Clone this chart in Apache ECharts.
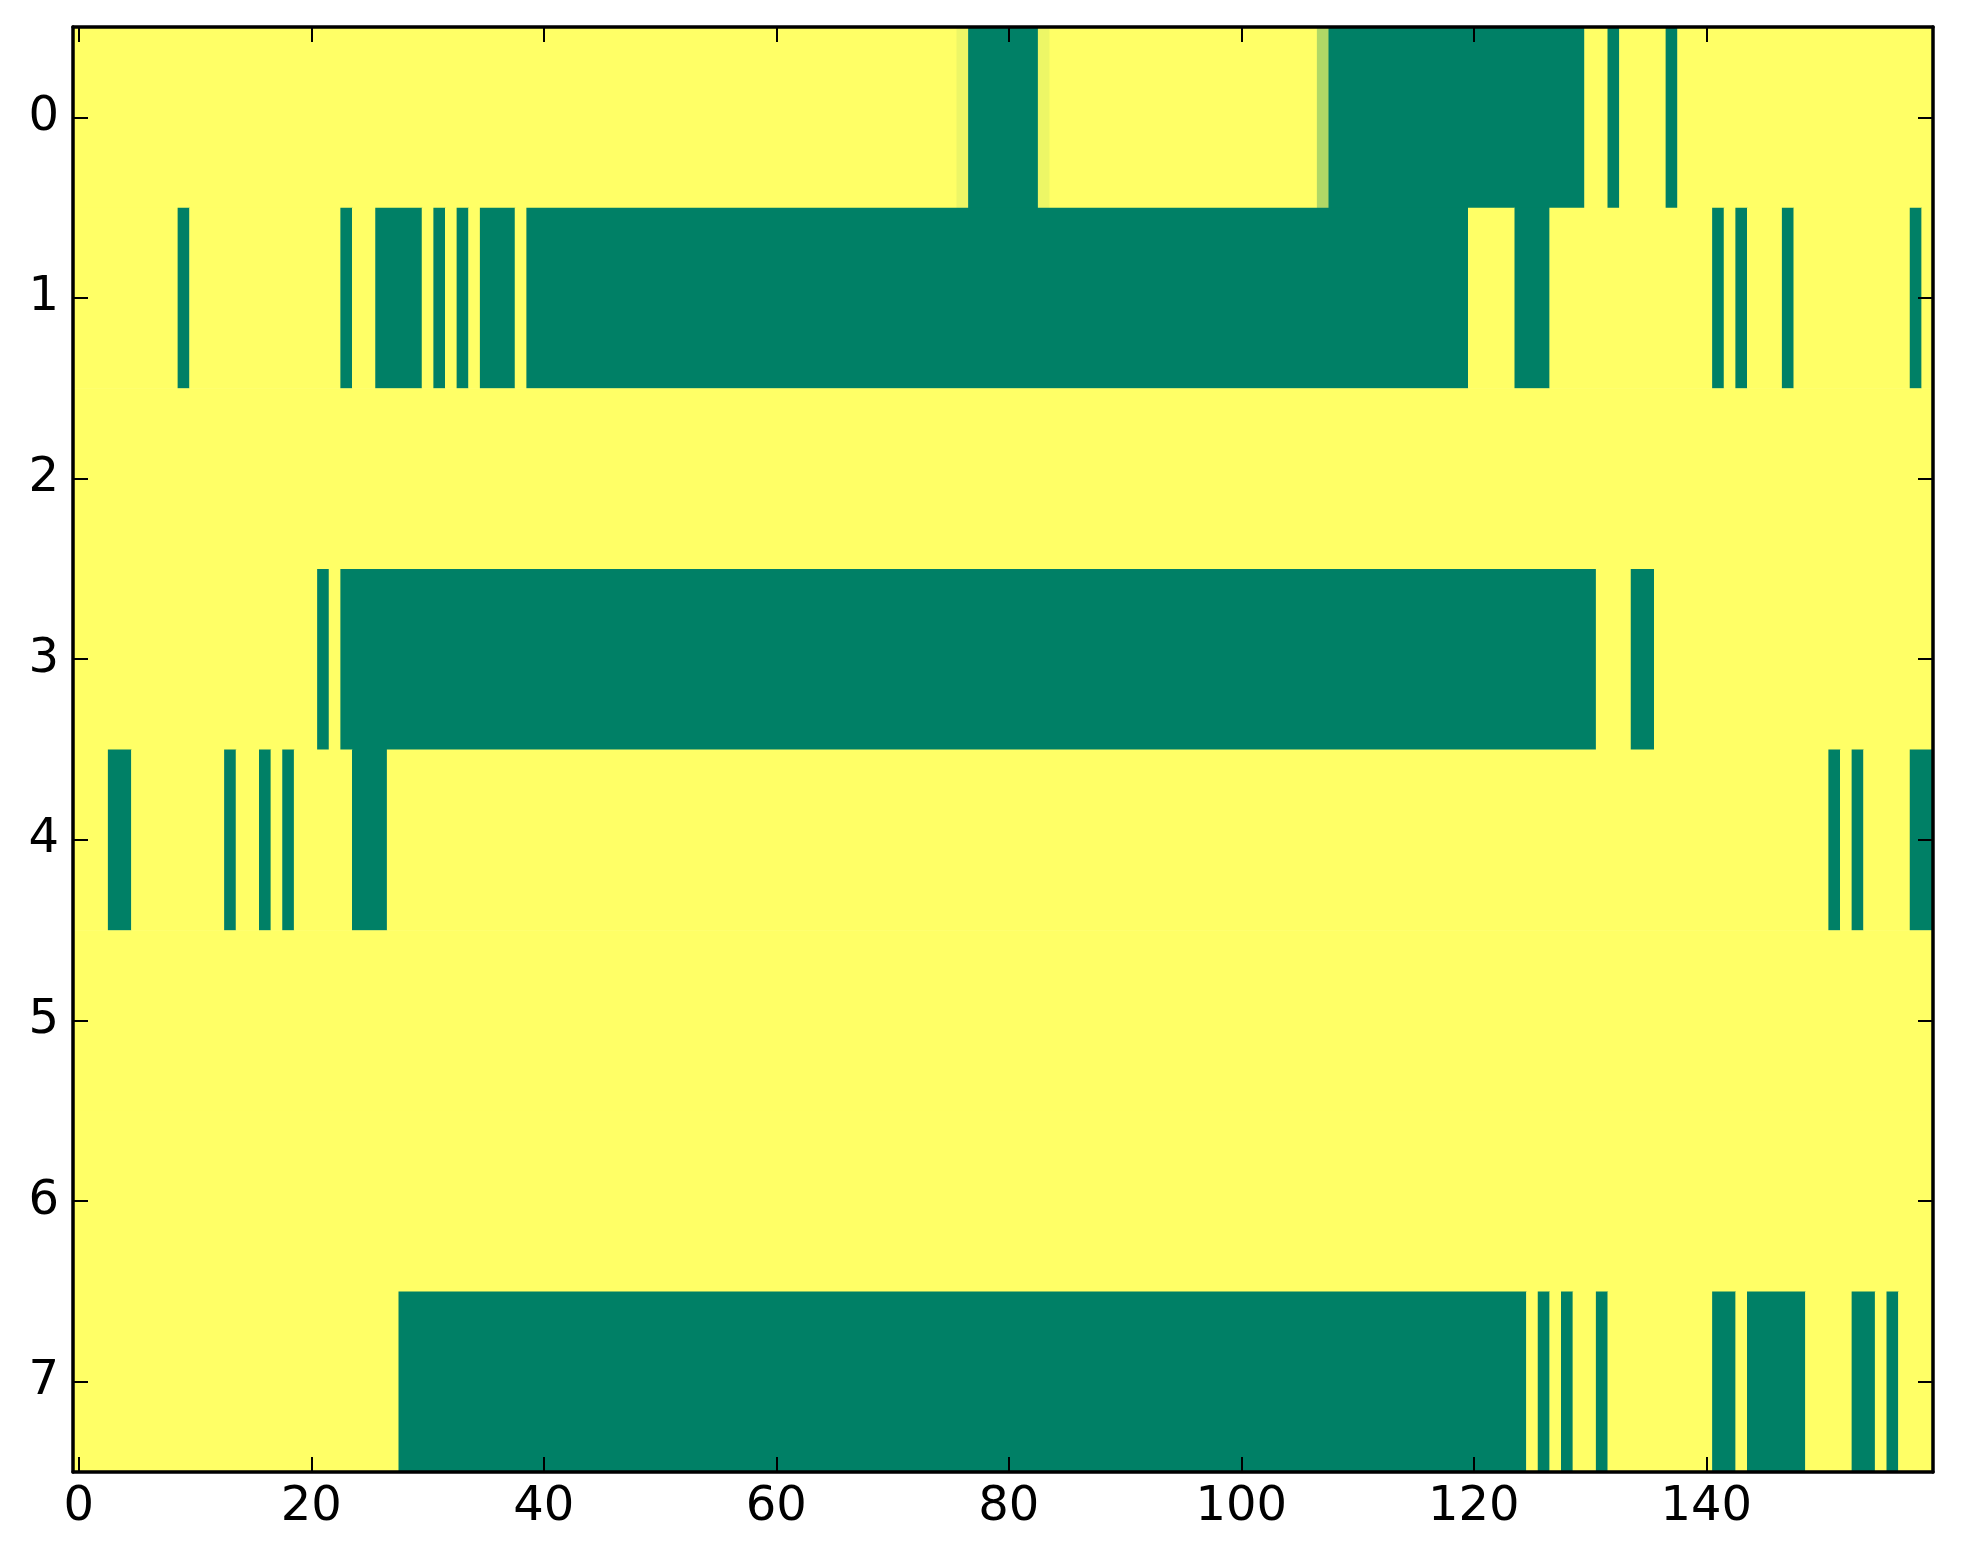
<!DOCTYPE html>
<html>
<head>
<meta charset="utf-8">
<script src="https://cdn.jsdelivr.net/npm/echarts@6/dist/echarts.min.js"></script>
<style>
html,body{margin:0;padding:0;background:#fff;}
#chart{width:1963px;height:1564px;}
</style>
</head>
<body>
<div id="chart"></div>
<script>
// Column count and row labels
const nCols = 160;
const rowLabels = ['0','1','2','3','4','5','6','7'];
const xTickStep = 20;

// Each row: runs of [startCol, endCol, value] (value 0 = green, 1 = yellow)
const row0 = [[0,75,1],[76,76,0.93],[77,82,0],[83,83,0.93],[84,106,1],[107,107,0.69],[108,129,0],[130,131,1],[132,132,0],[133,136,1],[137,137,0],[138,159,1]];
const row1 = [[0,8,1],[9,9,0],[10,22,1],[23,23,0],[24,25,1],[26,29,0],[30,30,1],[31,31,0],[32,32,1],[33,33,0],[34,34,1],[35,37,0],[38,38,1],[39,119,0],[120,123,1],[124,126,0],[127,140,1],[141,141,0],[142,142,1],[143,143,0],[144,146,1],[147,147,0],[148,157,1],[158,158,0],[159,159,1]];
const row2 = [[0,159,1]];
const row3 = [[0,20,1],[21,21,0],[22,22,1],[23,130,0],[131,133,1],[134,135,0],[136,159,1]];
const row4 = [[0,2,1],[3,4,0],[5,12,1],[13,13,0],[14,15,1],[16,16,0],[17,17,1],[18,18,0],[19,23,1],[24,26,0],[27,150,1],[151,151,0],[152,152,1],[153,153,0],[154,157,1],[158,159,0]];
const row5 = [[0,159,1]];
const row6 = [[0,159,1]];
const row7 = [[0,27,1],[28,124,0],[125,125,1],[126,126,0],[127,127,1],[128,128,0],[129,130,1],[131,131,0],[132,140,1],[141,142,0],[143,143,1],[144,148,0],[149,152,1],[153,154,0],[155,155,1],[156,156,0],[157,159,1]];
const rows = [row0,row1,row2,row3,row4,row5,row6,row7];

const xCategories = [];
for (let i = 0; i < nCols; i++) xCategories.push(String(i));

// items: [startCol, endCol, row, value]
const runs = [];
rows.forEach((rr, r) => {
  rr.forEach(([s, e, v]) => runs.push([s, e, r, v]));
});

const FONT = 'DejaVu Sans';
const lineStyle = {color:'#000', width:3.5};
const xEvery = (idx) => idx % xTickStep === 0;
const xTick = {show:true, inside:true, length:15, lineStyle:{color:'#000', width:2}, interval: xEvery, alignWithLabel:true};
const yTick = {show:true, inside:true, length:15, lineStyle:{color:'#000', width:2}, alignWithLabel:true, interval:0};

const chart = echarts.init(document.getElementById('chart'), null, {renderer:'canvas'});
chart.setOption({
  backgroundColor:'#fff',
  animation:false,
  grid:{left:73, top:27, width:1860, height:1445, containLabel:false},
  xAxis:[
    {type:'category', data:xCategories, position:'bottom', boundaryGap:true, z:10,
     axisLine:{show:true, lineStyle:lineStyle, onZero:false},
     axisTick:xTick,
     axisLabel:{show:true, interval:xEvery, fontSize:48, fontFamily:FONT, color:'#000', margin:12, hideOverlap:false},
     splitLine:{show:false}},
    {type:'category', data:xCategories, position:'top', boundaryGap:true, z:10,
     axisLine:{show:true, lineStyle:lineStyle, onZero:false},
     axisTick:xTick,
     axisLabel:{show:false},
     splitLine:{show:false}}
  ],
  yAxis:[
    {type:'category', data:rowLabels, inverse:true, position:'left', z:10,
     axisLine:{show:true, lineStyle:lineStyle, onZero:false},
     axisTick:yTick,
     axisLabel:{show:true, fontSize:48, fontFamily:FONT, color:'#000', margin:14},
     splitLine:{show:false}},
    {type:'category', data:rowLabels, inverse:true, position:'right', z:10,
     axisLine:{show:true, lineStyle:lineStyle, onZero:false},
     axisTick:yTick,
     axisLabel:{show:false},
     splitLine:{show:false}}
  ],
  visualMap:{show:false, type:'continuous', min:0, max:1, dimension:3, seriesIndex:0,
    inRange:{color:['#008066','#ffff66']}},
  series:[{
    type:'custom', xAxisIndex:0, yAxisIndex:0, data:runs,
    encode:{x:[0,1], y:2},
    z:2,
    clip:true,
    renderItem:function(params, api){
      const s = api.value(0), e = api.value(1), r = api.value(2);
      const p0 = api.coord([s, r]);
      const p1 = api.coord([e, r]);
      const sz = api.size([1, 1]);
      const pad = 0.6;
      return {
        type:'rect',
        shape:{x:p0[0]-sz[0]/2, y:p0[1]-sz[1]/2, width:(p1[0]-p0[0])+sz[0]+pad, height:sz[1]+pad},
        style:{fill:api.visual('color')},
        silent:true
      };
    }
  }]
});
</script>
</body>
</html>
